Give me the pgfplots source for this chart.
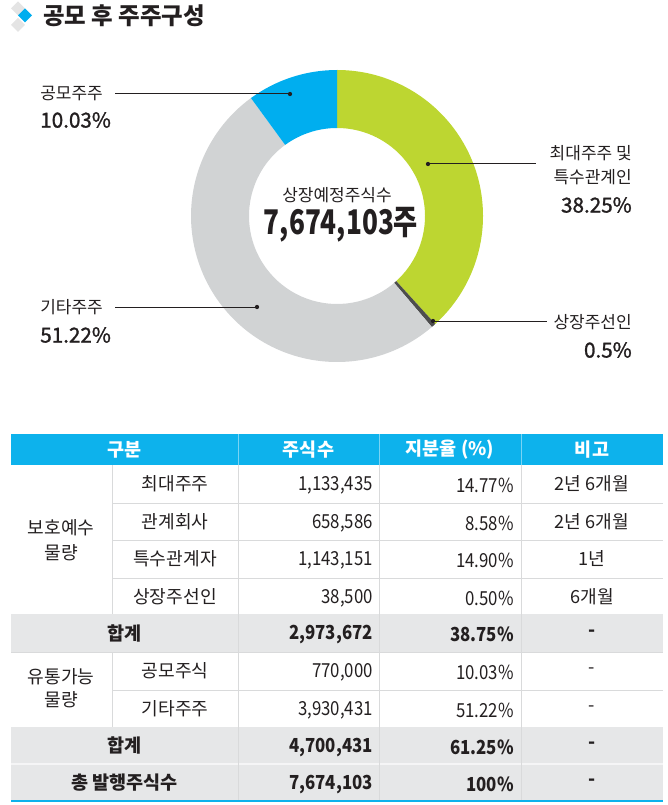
\documentclass[border=0pt]{standalone}
\usepackage{pgfplots}
\pgfplotsset{compat=1.18}
\usepackage{fontspec}
\setmainfont{Noto Sans CJK KR}
\newfontfamily\medfont[FakeBold=1.3]{Noto Sans CJK KR}
\newfontfamily\bignum[FakeStretch=0.77]{Noto Sans CJK KR}
\newfontfamily\tnum[FakeStretch=0.87]{Noto Sans CJK KR}
\usetikzlibrary{calc}
\definecolor{cgreen}{HTML}{BDD631}
\definecolor{cblue}{HTML}{00AEEF}
\definecolor{cgray}{HTML}{D1D3D4}
\definecolor{cdark}{HTML}{4D4D4D}
\definecolor{hblue}{HTML}{0DB2EC}
\definecolor{rowgray}{HTML}{E6E7E8}
\definecolor{ctext}{HTML}{231F20}
\definecolor{grid}{HTML}{D9DADB}
\definecolor{icongray}{HTML}{E4E4E4}
\newcommand{\fpt}[1]{\fontsize{#1}{#1}\selectfont}
% donut shares (%)
\def\sA{38.25}\def\sB{0.5}\def\sC{51.22}\def\sD{10.03}
\def\Ro{109.5pt}\def\Ri{66pt}
\newcommand{\sector}[3]{%
  \fill[#1] ($(c)+(#2:\Ro)$) arc[start angle=#2,end angle=#3,radius=\Ro]
    -- ($(c)+(#3:\Ri)$) arc[start angle=#3,end angle=#2,radius=\Ri] -- cycle;}
\newcommand{\vl}[1]{%
  \draw[grid,line width=0.75pt] (axis cs:#1,465) -- (axis cs:#1,801);
  \draw[white,opacity=0.45,line width=0.75pt] (axis cs:#1,434) -- (axis cs:#1,465);}
\begin{document}
\begin{tikzpicture}
\pgfmathsetmacro\aA{90}
\pgfmathsetmacro\aB{\aA-3.6*\sA}
\pgfmathsetmacro\aC{\aB-3.6*\sB}
\pgfmathsetmacro\aD{\aC-3.6*\sC}
\pgfmathsetmacro\aE{\aD-3.6*\sD}
\begin{axis}[
  width=500.25pt, height=603.75pt, scale only axis,
  xmin=0, xmax=667, ymin=0, ymax=805, y dir=reverse,
  hide axis, clip=false]
\addplot[draw=none] coordinates {(0,0) (667,805)};
\path (axis cs:0,0) rectangle (axis cs:667,805);
% title icon
\fill[icongray] (axis cs:18,1.5) -- (axis cs:25,8.5) -- (axis cs:18,15.5) -- (axis cs:11,8.5) -- cycle;
\fill[icongray] (axis cs:18,18) -- (axis cs:25,25) -- (axis cs:18,32) -- (axis cs:11,25) -- cycle;
\fill[cblue] (axis cs:25,8.5) -- (axis cs:32,15.5) -- (axis cs:25,22.5) -- (axis cs:18,15.5) -- cycle;
\node[anchor=west,inner sep=0,text=ctext,font=\fpt{17.6pt}\bfseries] at (axis cs:43,16) {공모 후 주주구성};
% donut
\coordinate (c) at (axis cs:337,216);
\sector{cgreen}{\aA}{\aB}
\sector{cdark}{\aB}{\aC}
\sector{cgray}{\aC}{\aD}
\sector{cblue}{\aD}{\aE}
\node[inner sep=0,text=ctext,font=\fpt{12.75pt}] at (axis cs:337,195) {상장예정주식수};
\node[inner sep=0,text=ctext,font=\fpt{25.5pt}\bignum\bfseries] at (axis cs:341,225) {7,674,103주};
% leaders
\draw[ctext,line width=0.75pt] (axis cs:115,94) -- (axis cs:290,94);
\fill[ctext] (axis cs:290,94) circle[radius=1.6pt];
\draw[ctext,line width=0.75pt] (axis cs:115,307) -- (axis cs:257,307);
\fill[ctext] (axis cs:257,307) circle[radius=1.6pt];
\draw[ctext,line width=0.75pt] (axis cs:428,164) -- (axis cs:536,164);
\fill[ctext] (axis cs:428,164) circle[radius=1.6pt];
\draw[ctext,line width=0.75pt] (axis cs:433,321) -- (axis cs:547,321);
\fill[ctext] (axis cs:433,321) circle[radius=1.6pt];
% labels
\node[anchor=west,inner sep=0,text=ctext,font=\fpt{12.75pt}] at (axis cs:40,94) {공모주주};
\node[anchor=west,inner sep=0,text=ctext,font=\fpt{15.5pt}\medfont] at (axis cs:40,120) {10.03\%};
\node[anchor=west,inner sep=0,text=ctext,font=\fpt{12.75pt}] at (axis cs:40,307) {기타주주};
\node[anchor=west,inner sep=0,text=ctext,font=\fpt{15.5pt}\medfont] at (axis cs:40,335) {51.22\%};
\node[anchor=east,inner sep=0,text=ctext,font=\fpt{12.75pt}] at (axis cs:632,153) {최대주주 및};
\node[anchor=east,inner sep=0,text=ctext,font=\fpt{12.75pt}] at (axis cs:632,177) {특수관계인};
\node[anchor=east,inner sep=0,text=ctext,font=\fpt{15.5pt}\medfont] at (axis cs:632,205) {38.25\%};
\node[anchor=east,inner sep=0,text=ctext,font=\fpt{12.75pt}] at (axis cs:632,322) {상장주선인};
\node[anchor=east,inner sep=0,text=ctext,font=\fpt{15.5pt}\medfont] at (axis cs:632,350) {0.5\%};
% table backgrounds
\fill[hblue] (axis cs:11,434) rectangle (axis cs:663,465);
\fill[rowgray] (axis cs:11,614) rectangle (axis cs:663,652);
\fill[rowgray] (axis cs:11,727) rectangle (axis cs:663,801);
% grid lines
\draw[grid,line width=0.75pt] (axis cs:112,503) -- (axis cs:663,503);
\draw[grid,line width=0.75pt] (axis cs:112,540) -- (axis cs:663,540);
\draw[grid,line width=0.75pt] (axis cs:112,578) -- (axis cs:663,578);
\draw[grid,line width=0.75pt] (axis cs:112,690) -- (axis cs:663,690);
\draw[grid,line width=0.75pt] (axis cs:11,652) -- (axis cs:663,652);
\draw[white!60!rowgray,line width=1pt] (axis cs:11,764) -- (axis cs:663,764);
\draw[grid,line width=0.75pt] (axis cs:112,465) -- (axis cs:112,614);
\draw[grid,line width=0.75pt] (axis cs:112,652) -- (axis cs:112,727);
\vl{238}
\vl{379}
\vl{521}
\draw[hblue,line width=1.6pt] (axis cs:11,801) -- (axis cs:663,801);
% header
\node[inner sep=0,text=white,font=\fpt{13.9pt}\bfseries] at (axis cs:124.5,449.5) {구분};
\node[inner sep=0,text=white,font=\fpt{13.9pt}\bfseries] at (axis cs:308.5,449.5) {주식수};
\node[inner sep=0,text=white,font=\fpt{13.9pt}\bfseries] at (axis cs:450,449.5) {지분율 (\%)};
\node[inner sep=0,text=white,font=\fpt{13.9pt}\bfseries] at (axis cs:592,449.5) {비고};
% merged cells
\node[inner sep=0,text=ctext,font=\fpt{13.6pt}] at (axis cs:61,528) {보호예수};
\node[inner sep=0,text=ctext,font=\fpt{13.6pt}] at (axis cs:61,553) {물량};
\node[inner sep=0,text=ctext,font=\fpt{13.6pt}] at (axis cs:61,677) {유통가능};
\node[inner sep=0,text=ctext,font=\fpt{13.6pt}] at (axis cs:61,700) {물량};
% body rows
\newcommand{\trow}[5]{%
  \node[inner sep=0,text=ctext,font=\fpt{13.6pt}] at (axis cs:175,#1) {#2};
  \node[anchor=east,inner sep=0,text=ctext,font=\fpt{14.5pt}\tnum,yshift=-1.2pt] at (axis cs:373,#1) {#3};
  \node[anchor=east,inner sep=0,text=ctext,font=\fpt{14.5pt}\tnum,yshift=-1.2pt] at (axis cs:514,#1) {#4};
  \node[inner sep=0,text=ctext,font=\fpt{13.6pt}] at (axis cs:592,#1) {#5};}
\trow{484}{최대주주}{1,133,435}{14.77\%}{2년 6개월}
\trow{521.5}{관계회사}{658,586}{8.58\%}{2년 6개월}
\trow{559}{특수관계자}{1,143,151}{14.90\%}{1년}
\trow{596.5}{상장주선인}{38,500}{0.50\%}{6개월}
\trow{671}{공모주식}{770,000}{10.03\%}{-}
\trow{708.5}{기타주주}{3,930,431}{51.22\%}{-}
\newcommand{\srow}[5]{%
  \node[inner sep=0,text=ctext,font=\fpt{13.9pt}\bfseries] at (axis cs:124.5,#1) {#2};
  \node[anchor=east,inner sep=0,text=ctext,font=\fpt{14.5pt}\tnum\bfseries,yshift=-1.2pt] at (axis cs:373,#1) {#3};
  \node[anchor=east,inner sep=0,text=ctext,font=\fpt{14.5pt}\tnum\bfseries,yshift=-1.2pt] at (axis cs:514,#1) {#4};
  \node[inner sep=0,text=ctext,font=\fpt{13.9pt}\bfseries] at (axis cs:592,#1) {#5};}
\srow{633}{합계}{2,973,672}{38.75\%}{-}
\srow{745.5}{합계}{4,700,431}{61.25\%}{-}
\srow{782.5}{총 발행주식수}{7,674,103}{100\%}{-}
\end{axis}
\end{tikzpicture}
\end{document}
